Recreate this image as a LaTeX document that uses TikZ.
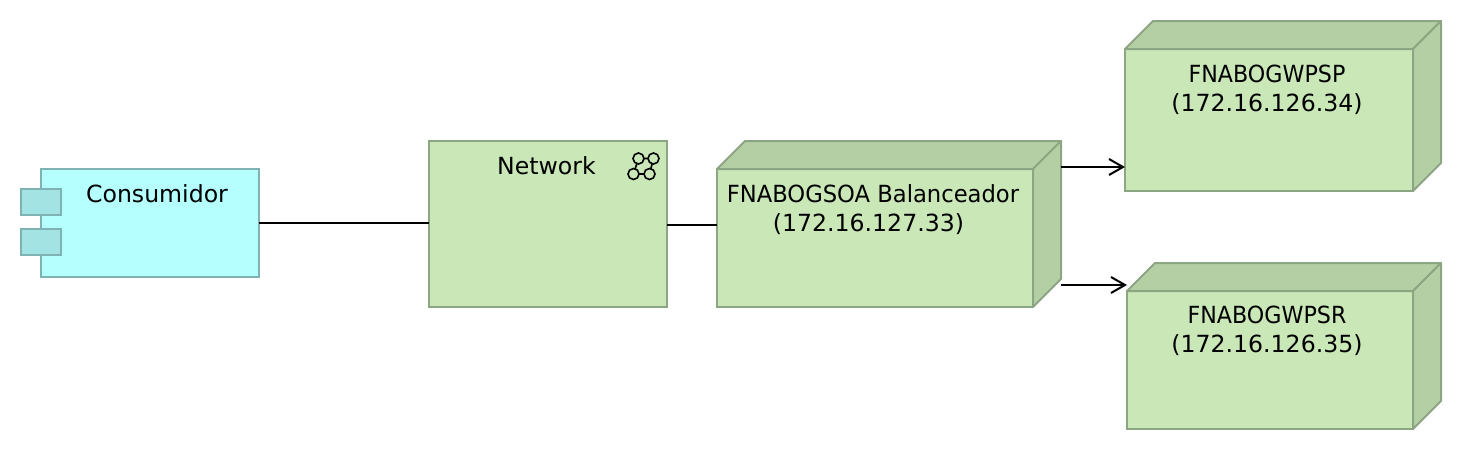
\documentclass[tikz,border=0pt]{standalone}
\usepackage{fontspec}
\setmainfont{DejaVu Sans}
\usepackage{tikz}
\usetikzlibrary{arrows.meta}

\definecolor{appfill}{HTML}{B5FFFF}
\definecolor{appline}{HTML}{7FB3B3}
\definecolor{tabfill}{HTML}{A3E3E3}
\definecolor{techfill}{HTML}{C9E7B7}
\definecolor{techdark}{HTML}{B5CFA5}
\definecolor{techline}{HTML}{8CA583}

\begin{document}
\begin{tikzpicture}[x=0.5pt,y=-0.5pt,line width=1pt,
    appbox/.style={draw=appline,fill=appfill,anchor=north west,inner sep=0pt,outer sep=0pt},
    apptab/.style={draw=appline,fill=tabfill,anchor=north west,inner sep=0pt,outer sep=0pt,minimum width=20pt,minimum height=13pt},
    techbox/.style={draw=techline,fill=techfill,anchor=north west,inner sep=0pt,outer sep=0pt},
    techside/.style={draw=techline,fill=techdark,line join=round},
    boxtext/.style={align=center,font=\fontsize{11.8}{14.5}\selectfont,inner sep=0pt},
    conn/.style={draw=black,line width=1pt},
    tip/.style={-{Straight Barb[length=7pt,width=8pt]}}]
    \useasboundingbox (0,0) rectangle (1462,450);

    % consumer
    \node[appbox,minimum width=109pt,minimum height=54pt] (Consumidor) at (41,169) {};
    \node[apptab] (TabA) at (21,189) {};
    \node[apptab] (TabB) at (21,229) {};
    \node[boxtext] (ConsumidorText) at (157,194) {Consumidor};

    % network
    \node[techbox,minimum width=119pt,minimum height=83pt] (Network) at (429,141) {};
    \node[boxtext] (NetworkText) at (546.5,166) {Network};
    \coordinate (N1) at (638.5,158.5);
    \coordinate (N2) at (653.5,158.5);
    \coordinate (N3) at (633.5,174);
    \coordinate (N4) at (649.5,174);
    \draw[line width=0.8pt] (N1) -- (N2) -- (N4) -- (N3) -- (N1);
    \foreach \n in {N1,N2,N3,N4}
        \draw[line width=0.8pt,fill=techfill] (\n) circle (5.5);

    % balancer
    \node[techbox,minimum width=158pt,minimum height=69pt] (Balanceador) at (717,169) {};
    \draw[techside] (Balanceador.north west) -- ++(28,-28) -- ++(316,0) -- (Balanceador.north east) -- cycle; % top
    \draw[techside] (Balanceador.north east) -- ++(28,-28) -- ++(0,138) -- (Balanceador.south east) -- cycle; % right
    \node[boxtext] (BalanceadorText) at (873,210) {{\addfontfeature{FakeStretch=0.96}FNABOGSOA Balanceador}\\(172.16.127.33)\kern4.5pt};

    % server P
    \node[techbox,minimum width=144pt,minimum height=71pt] (WPSP) at (1125,49) {};
    \draw[techside] (WPSP.north west) -- ++(28,-28) -- ++(288,0) -- (WPSP.north east) -- cycle; % top
    \draw[techside] (WPSP.north east) -- ++(28,-28) -- ++(0,142) -- (WPSP.south east) -- cycle; % right
    \node[boxtext] (WPSPText) at (1267,90) {{\addfontfeature{FakeStretch=0.94}FNABOGWPSP}\\(172.16.126.34)};

    % server R
    \node[techbox,minimum width=143pt,minimum height=69pt] (WPSR) at (1127,291) {};
    \draw[techside] (WPSR.north west) -- ++(28,-28) -- ++(286,0) -- (WPSR.north east) -- cycle; % top
    \draw[techside] (WPSR.north east) -- ++(28,-28) -- ++(0,138) -- (WPSR.south east) -- cycle; % right
    \node[boxtext] (WPSRText) at (1267,331) {{\addfontfeature{FakeStretch=0.94}FNABOGWPSR}\\(172.16.126.35)};

    % connectors
    \draw[conn] (Consumidor.east) -- (Network.west |- Consumidor.east);
    \draw[conn] ([yshift=6.5pt]Network.east |- Balanceador.east) -- ([yshift=6.5pt]Balanceador.west);
    \draw[conn,tip] ([xshift=14pt,yshift=35.5pt]Balanceador.east) -- ([yshift=12pt]WPSP.south west);
    \draw[conn,tip] ([xshift=14pt,yshift=-23.5pt]Balanceador.east) -- ([yshift=3pt]WPSR.north west);
\end{tikzpicture}
\end{document}
